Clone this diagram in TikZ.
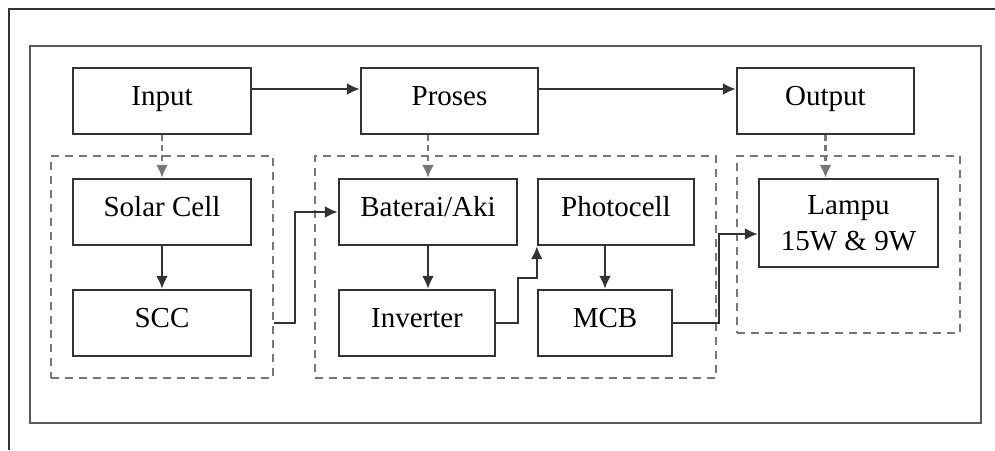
\documentclass[tikz,border=0pt]{standalone}
\usepackage{fontspec}
\setmainfont{Liberation Serif}
\usepackage{tikz}
\usetikzlibrary{arrows.meta}
\tikzset{>={Latex[length=6.5pt,width=6pt]}}
\definecolor{garis}{HTML}{333333}
\definecolor{putus}{HTML}{777777}
\tikzset{
  blok/.style={draw=garis,line width=1.2pt,minimum height=33pt,inner sep=0pt,
    font=\fontsize{14.5}{18}\selectfont,align=center,text height=0.68em,text depth=0.22em},
  grup/.style={draw=putus,line width=1.2pt,dash pattern=on 4pt off 3pt,inner sep=0pt},
  panah/.style={->,draw=garis,line width=1.2pt},
  panahputus/.style={->,draw=putus,line width=1.2pt,dash pattern=on 3pt off 2pt}
}

\begin{document}
\begin{tikzpicture}[x=0.5pt,y=-0.5pt]
    \useasboundingbox (0,0) rectangle (995,450);
    % bingkai
    \draw[garis,line width=0.9pt] (9,450) -- (9,9) -- (995,9);
    \draw[draw=black!65,line width=1.3pt] (30,46) rectangle (981,423);
    % kelompok putus-putus
    \node[grup,minimum width=111pt,minimum height=111pt] (gkiri) at (162,267) {};
    \node[grup,minimum width=200.5pt,minimum height=111pt] (gtengah) at (515.5,267) {};
    \node[grup,minimum width=111.5pt,minimum height=88.5pt] (gkanan) at (848.5,244.5) {};
    % blok
    \node[blok,minimum width=89pt] (input) at (162,101) {Input};
    \node[blok,minimum width=88.5pt] (proses) at (449.5,101) {Proses};
    \node[blok,minimum width=88.5pt] (output) at (825.5,101) {Output};
    \node[blok,minimum width=89pt] (solar) at (162,212) {Solar Cell};
    \node[blok,minimum width=89pt] (scc) at (162,323) {SCC};
    \node[blok,minimum width=89pt] (baterai) at (428,212) {Baterai/Aki};
    \node[blok,minimum width=78pt] (inverter) at (417,323) {Inverter};
    \node[blok,minimum width=78pt] (photocell) at (616,212) {Photocell};
    \node[blok,minimum width=67pt] (mcb) at (605,323) {MCB};
    \node[blok,minimum width=89.5pt,minimum height=44pt,text height=,text depth=] (lampu) at (848.5,223) {Lampu\\15W \& 9W};
    % panah
    \draw[panah] ([yshift=6pt]input.east) -- ([yshift=6pt]proses.west);
    \draw[panah] ([yshift=6pt]proses.east) -- ([yshift=6pt]output.west);
    \draw[panahputus] (input.south) -- (solar.north);
    \draw[panahputus] (baterai.north |- proses.south) -- (baterai.north);
    \draw[panahputus] (output.south) -- (output.south |- lampu.north);
    \draw[panah] (solar) -- (scc);
    \draw[panah] (baterai) -- (baterai.south |- inverter.north);
    \draw[panah] (photocell.south -| mcb.north) -- (mcb.north);
    \draw[panah] (gkiri.east |- scc.east) -- ++(10.5pt,0) |- (baterai.west);
    \draw[panah] (inverter.east) -- ++(11pt,0) -- ++(0,22.5pt) -| (photocell.south west);
    \draw[panah] (mcb.east) -- ++(23pt,0) |- ([yshift=-5.5pt]lampu.west);
\end{tikzpicture}
\end{document}
